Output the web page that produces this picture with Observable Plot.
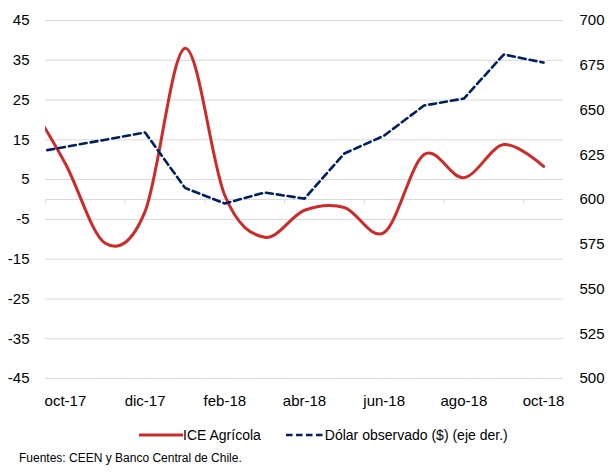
<!DOCTYPE html>
<html>
<head>
<meta charset="utf-8">
<script src="https://cdn.jsdelivr.net/npm/d3@7"></script>
<script src="https://cdn.jsdelivr.net/npm/@observablehq/plot@0.6"></script>
<style>
  body { margin: 0; background: #fff; }
  #chart svg { display: block; }
  #legend { display: flex; align-items: center; height: 20px; margin-top: 10px; padding-left: 139px;
            font: 14px "Liberation Sans", Arial, sans-serif; color: #000; white-space: nowrap; }
  #legend svg { display: block; }
  #foot { padding-left: 19px; margin-top: 6px; line-height: 18px;
          font: 12px "Liberation Sans", Arial, sans-serif; color: #000; }
</style>
</head>
<body>
<div id="chart"></div>
<div id="legend"></div>
<div id="foot"></div>
<script>
// ---- data (sep-17 is just outside the left edge of the visible axis) ----
const months = ["sep-17","oct-17","nov-17","dic-17","ene-18","feb-18","mar-18","abr-18","may-18","jun-18","jul-18","ago-18","sep-18","oct-18"];
const iceAgricola = [26, 9, -11, -3, 38, 1, -9.5, -2.7, -2, -8.3, 11.3, 5.5, 13.8, 8.3];
const dolarObservado = [625.4, 629.4, 633.4, 637.4, 606.5, 597.8, 603.9, 600.5, 625.7, 635.7, 652.5, 656.4, 681, 676.5];
const xTickLabels = ["oct-17","dic-17","feb-18","abr-18","jun-18","ago-18","oct-18"];
const leftTicks = [-45, -35, -25, -15, -5, 5, 15, 25, 35, 45];
const rightTicks = [500, 525, 550, 575, 600, 625, 650, 675, 700];
const seriesNames = ["ICE Agrícola", "Dólar observado ($) (eje der.)"];
const sourceText = "Fuentes: CEEN y Banco Central de Chile.";

const RED = "#cf2a2a", NAVY = "#002060", GRID = "#d9d9d9";
const FONT = '"Liberation Sans", Arial, sans-serif';

// month index: oct-17 = 0
const idx = m => months.indexOf(m) - 1;
const iceData = months.map((m, i) => ({x: idx(m), v: iceAgricola[i]}));
const dolarData = months.map((m, i) => ({x: idx(m), v: dolarObservado[i]}));

// secondary axis mapping (500..700 onto -45..45)
const toLeft = d => -45 + (d - 500) * 90 / 200;
const fromLeft = v => Math.round(500 + (v + 45) * 200 / 90);

const labelPos = xTickLabels.map(l => months.indexOf(l) - 1);
const boundaryTicks = labelPos.map(p => p - 0.5);

const chart = Plot.plot({
  width: 608,
  height: 415,
  marginLeft: 45,
  marginRight: 45,
  marginTop: 20,
  marginBottom: 37,
  x: {domain: [-0.5, 12.5], axis: null, label: null},
  y: {domain: [-45, 45], axis: null, label: null},
  style: {fontFamily: FONT, fontSize: "15px", color: "#000", background: "#fff"},
  marks: [
    Plot.gridY(leftTicks, {stroke: GRID, strokeOpacity: 1, strokeWidth: 1}),
    Plot.ruleY([0], {stroke: GRID, strokeWidth: 1}),
    Plot.ruleX(boundaryTicks, {y1: 0, y2: -1.1, stroke: GRID, strokeWidth: 1}),
    Plot.axisY(leftTicks, {anchor: "left", label: null, tickSize: 0, tickPadding: 16, tickFormat: d => String(d)}),
    Plot.axisY(rightTicks.map(toLeft), {anchor: "right", label: null, tickSize: 0, tickPadding: 16, tickFormat: v => String(fromLeft(v))}),
    Plot.axisX(labelPos, {anchor: "bottom", label: null, tickSize: 0, tickPadding: 17, tickFormat: (d) => xTickLabels[labelPos.indexOf(d)]}),
    Plot.line(iceData, {x: "x", y: "v", curve: "cardinal", tension: 0, stroke: RED, strokeWidth: 3, clip: true}),
    Plot.line(dolarData, {x: "x", y: d => toLeft(d.v), stroke: NAVY, strokeWidth: 2.6, strokeDasharray: "7,4", clip: true})
  ]
});
document.getElementById("chart").appendChild(chart);

// legend
const legend = document.getElementById("legend");
legend.innerHTML =
  `<svg width="44" height="6"><line x1="0" x2="44" y1="3" y2="3" stroke="${RED}" stroke-width="3"/></svg>` +
  `<span>${seriesNames[0]}</span>` +
  `<svg width="39" height="6" style="margin-left:25px"><line x1="0" x2="39" y1="3" y2="3" stroke="${NAVY}" stroke-width="2.6" stroke-dasharray="6.5,3.5"/></svg>` +
  `<span>${seriesNames[1]}</span>`;
document.getElementById("foot").textContent = sourceText;
</script>
</body>
</html>
